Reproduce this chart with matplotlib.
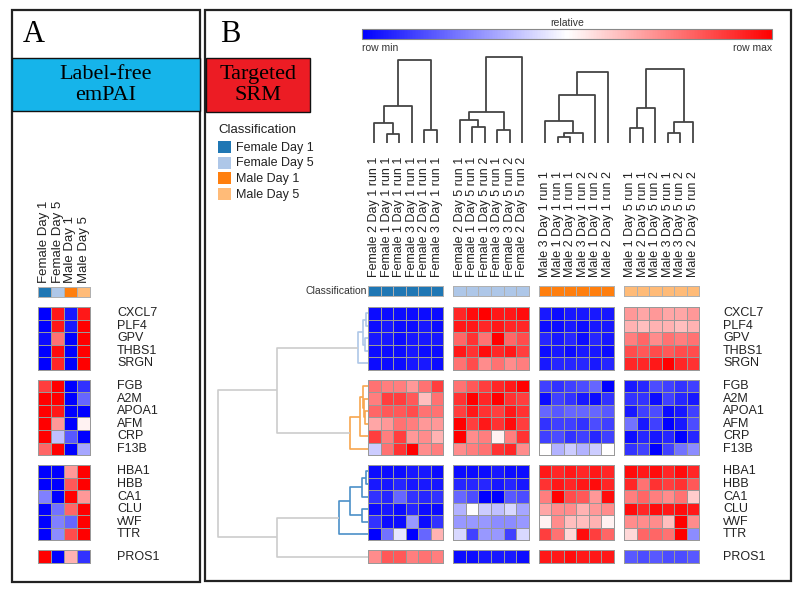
import numpy as np
import matplotlib
matplotlib.use("Agg")
from matplotlib import pyplot as plt
from matplotlib.colors import ListedColormap, Normalize
from matplotlib.cm import ScalarMappable
from matplotlib.patches import Rectangle

plt.rcParams['font.family'] = ['Liberation Sans', 'DejaVu Sans']

# ---- data ----
genes = ["CXCL7", "PLF4", "GPV", "THBS1", "SRGN",
         "FGB", "A2M", "APOA1", "AFM", "CRP", "F13B",
         "HBA1", "HBB", "CA1", "CLU", "vWF", "TTR",
         "PROS1"]
row_blocks = [5, 6, 6, 1]

classes = ["Female Day 1", "Female Day 5", "Male Day 1", "Male Day 5"]
class_colors = ["#1f77b4", "#aec7e8", "#ff7f0e", "#ffbb78"]

# panel A: label-free emPAI (rows = genes, cols = classes)
empai = [
    [-1.0, 0.9, -0.9, 0.9],
    [-1.0, 0.9, -0.9, 1.0],
    [-0.95, 0.55, -1.0, 1.0],
    [-1.0, 0.95, -1.0, 1.0],
    [-1.0, 0.85, -1.0, 1.0],
    [0.75, 1.0, -1.0, -0.8],
    [1.0, 1.0, -1.0, -0.6],
    [1.0, 0.9, -1.0, -1.0],
    [1.0, 0.4, -1.0, 0.05],
    [1.0, -0.25, -0.65, -1.0],
    [0.6, 1.0, -1.0, -0.35],
    [-1.0, -1.0, 0.4, 1.0],
    [-1.0, -1.0, 0.65, 1.0],
    [-0.5, -1.0, 1.0, 0.4],
    [-1.0, -0.55, 0.6, 1.0],
    [-1.0, -0.5, -0.6, 1.0],
    [-1.0, -0.45, 0.7, 1.0],
    [1.0, -1.0, 0.3, -0.8],
]

# panel B: targeted SRM, one array per class (rows = genes, cols = samples)
samples_fd1 = ["Female 2 Day 1 run 1", "Female 1 Day 1 run 1", "Female 1 Day 1 run 1",
               "Female 3 Day 1 run 1", "Female 2 Day 1 run 1", "Female 3 Day 1 run 1"]
samples_fd5 = ["Female 2 Day 5 run 1", "Female 1 Day 5 run 1", "Female 1 Day 5 run 2",
               "Female 3 Day 5 run 1", "Female 3 Day 5 run 2", "Female 2 Day 5 run 2"]
samples_md1 = ["Male 3 Day 1 run 1", "Male 1 Day 1 run 1", "Male 2 Day 1 run 1",
               "Male 3 Day 1 run 2", "Male 1 Day 1 run 2", "Male 2 Day 1 run 2"]
samples_md5 = ["Male 1 Day 5 run 1", "Male 2 Day 5 run 1", "Male 1 Day 5 run 2",
               "Male 3 Day 5 run 1", "Male 3 Day 5 run 2", "Male 2 Day 5 run 2"]

srm_fd1 = [
    [-0.95, -0.95, -0.95, -0.95, -0.95, -0.95],
    [-0.95, -0.9, -0.95, -0.95, -0.9, -0.95],
    [-0.9, -0.9, -0.95, -0.9, -0.9, -0.9],
    [-0.95, -0.95, -0.95, -0.9, -0.95, -0.95],
    [-0.95, -0.95, -0.95, -0.9, -0.9, -0.95],
    [0.55, 0.5, 0.5, 0.4, 0.55, 0.75],
    [0.5, 0.75, 0.75, 0.65, 0.25, 0.55],
    [0.6, 0.65, 0.65, 0.7, 0.55, 0.55],
    [0.35, 0.4, 0.55, 0.5, 0.4, 0.4],
    [0.75, 0.5, 0.75, 0.4, 0.45, 0.3],
    [-0.2, 0.55, 0.8, 1.0, 0.45, 0.5],
    [-0.95, -0.95, -0.95, -0.9, -0.9, -0.95],
    [-0.9, -0.9, -0.85, -0.9, -0.9, -0.9],
    [-0.8, -0.85, -0.6, -0.8, -0.85, -0.8],
    [-0.95, -0.9, -0.95, -0.85, -0.95, -0.95],
    [-0.8, -0.95, -0.95, -0.4, -0.95, -0.8],
    [-1.0, -0.55, -0.1, -1.0, -0.6, 0.3],
    [0.45, 0.65, 0.65, 0.5, 0.55, 0.5],
]
srm_fd5 = [
    [0.85, 0.95, 1.0, 0.9, 0.9, 0.95],
    [0.9, 0.9, 0.85, 0.9, 0.85, 0.85],
    [0.6, 0.8, 0.55, 1.0, 0.6, 0.7],
    [0.9, 0.8, 0.95, 0.85, 0.9, 0.75],
    [0.55, 0.7, 0.45, 0.55, 0.45, 0.5],
    [0.55, 0.65, 0.75, 0.85, 0.9, 1.0],
    [0.8, 1.0, 0.85, 1.0, 0.8, 0.75],
    [0.75, 0.9, 0.8, 0.75, 0.9, 0.8],
    [1.0, 0.75, 0.9, 0.8, 0.95, 0.75],
    [1.0, 0.45, 0.5, 0.05, 0.5, 0.8],
    [0.45, 0.5, 0.55, 0.8, 0.85, 0.45],
    [-0.95, -0.95, -0.95, -0.9, -0.95, -0.95],
    [-0.85, -0.85, -0.85, -0.9, -0.85, -0.9],
    [-0.6, -0.7, -1.0, -1.0, -0.65, -0.7],
    [-0.3, 0.0, -0.2, -0.25, -0.15, -0.35],
    [-0.4, -0.4, -0.4, -0.45, -0.45, -0.4],
    [-0.15, -0.75, -0.4, -0.4, -0.75, -0.15],
    [-0.95, -0.95, -0.9, -0.9, -0.9, -0.95],
]
srm_md1 = [
    [-0.9, -0.95, -0.9, -0.9, -0.9, -0.9],
    [-0.95, -0.95, -0.9, -0.95, -0.9, -0.9],
    [-0.85, -0.9, -0.85, -0.95, -0.85, -0.9],
    [-0.95, -0.9, -0.95, -0.9, -0.9, -0.95],
    [-0.9, -0.85, -0.85, -0.85, -0.9, -0.85],
    [-0.75, -0.8, -0.75, -0.7, -0.6, -1.0],
    [-0.95, -0.75, -0.8, -0.9, -0.95, -0.8],
    [-0.6, -0.65, -0.6, -0.6, -0.6, -0.65],
    [-0.8, -0.75, -0.75, -0.8, -0.7, -0.75],
    [-0.75, -0.7, -0.8, -0.75, -0.85, -0.75],
    [0.0, -0.3, -0.2, -0.3, -0.2, 0.0],
    [0.9, 0.85, 0.9, 0.85, 0.9, 0.85],
    [0.8, 0.9, 0.85, 0.9, 0.95, 0.85],
    [0.5, 1.0, 0.7, 0.65, 0.4, 0.95],
    [0.35, 0.45, 0.45, 0.3, 0.4, 0.45],
    [0.05, 0.45, 0.25, 0.25, 0.3, 0.05],
    [0.75, 0.55, 0.15, 0.95, 0.75, 0.6],
    [0.9, 0.9, 0.95, 0.9, 0.9, 0.9],
]
srm_md5 = [
    [0.4, 0.35, 0.4, 0.35, 0.35, 0.4],
    [0.3, 0.25, 0.3, 0.3, 0.25, 0.3],
    [0.5, 0.6, 0.45, 0.55, 0.5, 0.55],
    [0.7, 0.65, 0.7, 0.65, 0.7, 0.7],
    [0.85, 0.85, 0.9, 1.0, 0.85, 0.8],
    [-0.9, -0.85, -0.7, -0.75, -0.8, -0.75],
    [-0.8, -0.8, -0.95, -0.75, -0.85, -0.9],
    [-0.9, -0.75, -0.7, -0.95, -0.9, -0.75],
    [-0.55, -0.9, -0.75, -1.0, -0.9, -0.7],
    [-0.95, -0.85, -0.9, -0.85, -1.0, -0.85],
    [-0.8, -0.75, -1.0, -0.75, -0.55, -0.45],
    [0.95, 0.9, 0.95, 0.85, 0.95, 0.85],
    [0.85, 0.55, 0.8, 0.75, 0.8, 0.65],
    [0.5, 0.6, 0.5, 0.45, 0.55, 0.2],
    [0.95, 0.85, 0.95, 0.9, 0.95, 0.9],
    [0.45, 0.45, 0.45, 0.25, 1.0, 0.45],
    [0.15, 0.6, 0.6, 0.55, 1.0, -0.45],
    [-0.65, -0.7, -0.65, -0.7, -0.7, -0.65],
]

# column dendrograms (child a, child b, merge height) per class
col_trees = [
    [(1, 2, 9), (0, 6, 20), (7, 3, 37), (4, 5, 13), (8, 9, 83)],
    [(1, 2, 16), (0, 6, 23), (3, 4, 13), (7, 8, 31), (9, 5, 86)],
    [(1, 2, 6), (6, 3, 10), (0, 7, 22), (8, 4, 48), (9, 5, 71)],
    [(0, 1, 15), (6, 2, 35), (3, 4, 10), (8, 5, 21), (7, 9, 74)],
]
# row dendrogram over the 18 genes
row_tree = [(0, 1, 2), (2, 3, 3), (18, 19, 5), (20, 4, 10),
            (7, 8, 3), (6, 22, 4), (5, 23, 5), (24, 9, 8), (25, 10, 18),
            (11, 12, 2), (27, 13, 6), (14, 15, 6), (28, 29, 18), (30, 16, 29),
            (21, 26, 91), (31, 17, 91), (32, 33, 150)]
row_tree_colors = ["#aec7e8"] * 4 + ["#f7a64e"] * 5 + ["#4b90c8"] * 5 + ["#cccccc"] * 3

srm_groups = [srm_fd1, srm_fd5, srm_md1, srm_md5]
sample_groups = [samples_fd1, samples_fd5, samples_md1, samples_md5]

# ---- layout helpers (pixel coordinates of the 800x590 picture) ----
W, H = 800, 590
GAP = 0.8
UNIT = 12.55
EDGE_LW = 0.7


def box(x0, y0, x1, y1):
    return [x0 / W, 1 - y1 / H, (x1 - x0) / W, (y1 - y0) / H]


def draw_tree(ax, merges, leaf_pos, colors, horizontal=False, lw=1.2):
    pos = list(leaf_pos)
    hgt = [0.0] * len(leaf_pos)
    for (a, b, h), c in zip(merges, colors):
        xs = [pos[a], pos[a], pos[b], pos[b]]
        ys = [hgt[a], h, h, hgt[b]]
        if horizontal:
            ax.plot(ys, xs, color=c, lw=lw, solid_capstyle='butt')
        else:
            ax.plot(xs, ys, color=c, lw=lw, solid_capstyle='butt')
        pos.append((pos[a] + pos[b]) / 2)
        hgt.append(h)


row_off = np.cumsum([0] + [n + GAP for n in row_blocks[:-1]])
row_first = np.cumsum([0] + row_blocks[:-1])
col_off = np.arange(4) * (6 + GAP)
row_centers = np.concatenate([row_off[b] + np.arange(n) + 0.5 for b, n in enumerate(row_blocks)])
y_bottom = row_off[-1] + row_blocks[-1]
x_right = col_off[-1] + 6
CB_TOP, CB_BOT = -1.68, -0.88
PAD = 0.1

fig = plt.figure(figsize=(8, 5.9), dpi=100)

# overlay for frames and titles
ov = fig.add_axes([0, 0, 1, 1])
ov.set_xlim(0, W)
ov.set_ylim(H, 0)
ov.axis('off')
ov.add_patch(Rectangle((12, 10), 188, 572, fill=False, ec='#222222', lw=1.6))
ov.add_patch(Rectangle((205, 10), 586, 571, fill=False, ec='#222222', lw=1.6))
ov.text(34, 34, "A", family='Liberation Serif', fontsize=22, ha='center', va='center')
ov.text(230, 34, "B", family='Liberation Serif', fontsize=22, ha='center', va='center')
ov.add_patch(Rectangle((12, 58), 188, 53, fc='#16b4ea', ec='#111111', lw=1))
ov.text(106, 85, "Label-free\nemPAI", family='Liberation Serif', fontsize=16,
        ha='center', va='center', linespacing=1.15)
ov.add_patch(Rectangle((206, 58), 104, 54, fc='#ec1c24', ec='#111111', lw=1))
ov.text(258, 85, "Targeted\nSRM", family='Liberation Serif', fontsize=16,
        ha='center', va='center', linespacing=1.15)

# legend
ov.text(218, 130, "Classification", fontsize=9.5, ha='left', va='center', color='#222222')
for i, (lab, col) in enumerate(zip(classes, class_colors)):
    yy = 141 + i * 15.7
    ov.add_patch(Rectangle((218, yy), 12.5, 12, fc=col, ec='none'))
    ov.text(236, yy + 6.5, lab, fontsize=9, ha='left', va='center', color='#222222')

# colour scale
cmap = plt.get_cmap('bwr')
norm = Normalize(-1, 1)
cax = fig.add_axes(box(362, 29, 772, 39))
cb = fig.colorbar(ScalarMappable(norm=norm, cmap=cmap), cax=cax, orientation='horizontal')
cb.set_ticks([])
cb.outline.set_edgecolor('#888888')
ov.text(567, 23, "relative", fontsize=7.5, ha='center', va='center', color='#333333')
ov.text(362, 48, "row min", fontsize=7.5, ha='left', va='center', color='#333333')
ov.text(772, 48, "row max", fontsize=7.5, ha='right', va='center', color='#333333')

class_cmap = ListedColormap(class_colors)

# ---- panel B heatmap ----
x0_px, y0_px = 368, 307
ax = fig.add_axes(box(x0_px - PAD * UNIT, y0_px + (CB_TOP - PAD) * UNIT,
                      x0_px + (x_right + PAD) * UNIT, y0_px + (y_bottom + PAD) * UNIT))
srm = np.hstack([np.array(g) for g in srm_groups])
for g in range(4):
    X = col_off[g] + np.arange(7)
    for b, n in enumerate(row_blocks):
        r0 = row_first[b]
        Y = row_off[b] + np.arange(n + 1)
        ax.pcolormesh(X, Y, srm[r0:r0 + n, 6 * g:6 * g + 6], cmap=cmap, norm=norm,
                      edgecolors='#999999', linewidth=EDGE_LW)
    ax.pcolormesh(X, [CB_TOP, CB_BOT], np.full((1, 6), g), cmap=class_cmap,
                  vmin=-0.5, vmax=3.5, edgecolors='#b0b0b0', linewidth=0.6)
    for j, lab in enumerate(sample_groups[g]):
        ax.text(col_off[g] + j + 0.5, -2.39, lab, rotation=90, ha='center', va='bottom',
                fontsize=9, color='#222222')
for name, yc in zip(genes, row_centers):
    ax.text((723 - x0_px) / UNIT, yc, name, ha='left', va='center', fontsize=9, color='#222222')
ax.text(-0.1, (CB_TOP + CB_BOT) / 2, "Classification", ha='right', va='center',
        fontsize=7.5, color='#333333')
ax.set_xlim(-PAD, x_right + PAD)
ax.set_ylim(y_bottom + PAD, CB_TOP - PAD)
ax.axis('off')

# column dendrograms
dax = fig.add_axes(box(x0_px - PAD * UNIT, 50, x0_px + (x_right + PAD) * UNIT, 143))
for g in range(4):
    leaves = col_off[g] + np.arange(6) + 0.5
    draw_tree(dax, col_trees[g], leaves, ['#444444'] * 5, lw=1.3)
dax.set_xlim(-PAD, x_right + PAD)
dax.set_ylim(0, 93)
dax.axis('off')

# row dendrogram
rax = fig.add_axes(box(210, y0_px + (CB_TOP - PAD) * UNIT, x0_px, y0_px + (y_bottom + PAD) * UNIT))
draw_tree(rax, row_tree, row_centers, row_tree_colors, horizontal=True, lw=1.2)
rax.set_xlim(158, 0)
rax.set_ylim(y_bottom + PAD, CB_TOP - PAD)
rax.axis('off')

# ---- panel A heatmap ----
UA = 13.0
xa_px = 38
aax = fig.add_axes(box(xa_px - PAD * UA, y0_px + (CB_TOP - PAD) * UNIT,
                       xa_px + (4 + PAD) * UA, y0_px + (y_bottom + PAD) * UNIT))
emp = np.array(empai)
for b, n in enumerate(row_blocks):
    r0 = row_first[b]
    aax.pcolormesh(np.arange(5), row_off[b] + np.arange(n + 1), emp[r0:r0 + n], cmap=cmap,
                   norm=norm, edgecolors='#999999', linewidth=EDGE_LW)
aax.pcolormesh(np.arange(5), [CB_TOP + 0.08, CB_BOT + 0.08], np.arange(4)[None, :],
               cmap=class_cmap, vmin=-0.5, vmax=3.5, edgecolors='#b0b0b0', linewidth=0.6)
for j, lab in enumerate(classes):
    aax.text(j + 0.5, -1.91, lab, rotation=90, ha='center', va='bottom', fontsize=9.5,
             color='#222222')
for name, yc in zip(genes, row_centers):
    aax.text((117 - xa_px) / UA, yc, name, ha='left', va='center', fontsize=9, color='#222222')
aax.set_xlim(-PAD, 4 + PAD)
aax.set_ylim(y_bottom + PAD, CB_TOP - PAD)
aax.axis('off')

fig.savefig("out.png", dpi=100)
